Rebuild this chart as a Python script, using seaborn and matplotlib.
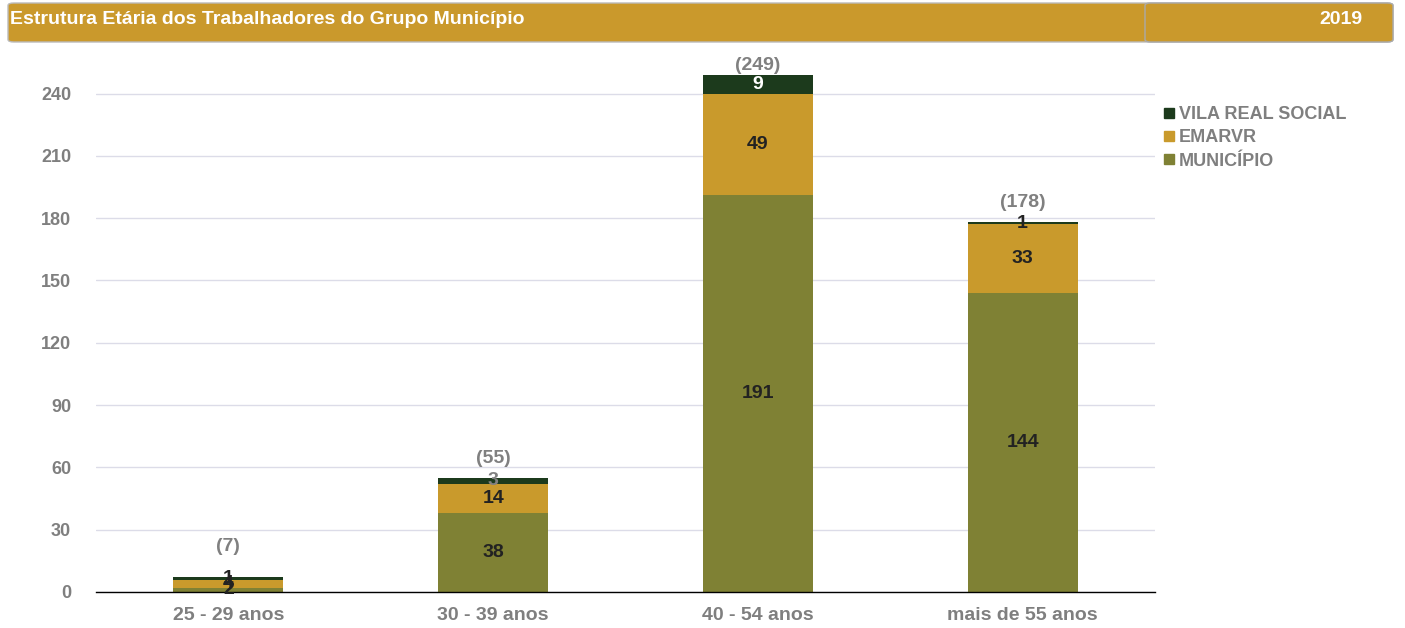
import matplotlib
matplotlib.use("Agg")
import matplotlib.pyplot as plt
import seaborn as sns
import numpy as np
from matplotlib.patches import FancyBboxPatch
from matplotlib.lines import Line2D

sns.set_theme(style="white")
plt.rcParams['font.family'] = ['Liberation Sans', 'DejaVu Sans']

# data
categories = ["25 - 29 anos", "30 - 39 anos", "40 - 54 anos", "mais de 55 anos"]
municipio = [2, 38, 191, 144]
emarvr = [4, 14, 49, 33]
vila_real = [1, 3, 9, 1]
series_names = ["MUNICÍPIO", "EMARVR", "VILA REAL SOCIAL"]
series_colors = ["#7F8134", "#C99A2C", "#1C3A1C"]
label_colors = ["#222222", "#222222", "#FFFFFF"]
title = "Estrutura Etária dos Trabalhadores do Grupo Município"
year = "2019"

fig = plt.figure(figsize=(14.05, 6.28), dpi=100)
ax = fig.add_axes([96 / 1405, 36 / 628, 1059 / 1405, 540 / 628])

series = [municipio, emarvr, vila_real]
bottom = np.zeros(len(categories))
for vals, name, col, lcol in zip(series, series_names, series_colors, label_colors):
    vals = np.array(vals, dtype=float)
    sns.barplot(x=categories, y=vals, bottom=bottom, color=col, width=0.415,
                ax=ax, edgecolor=col, linewidth=0, saturation=1)
    for i, (v, b) in enumerate(zip(vals, bottom)):
        c = lcol
        if name == "VILA REAL SOCIAL" and v < 5:
            c = "#222222" if v < 2 else "#808080"
        ax.text(i, b + v / 2, f"{int(v)}", ha="center", va="center",
                fontsize=14, fontweight="bold", color=c)
    bottom += vals

# total labels (Excel-like placement, a bit higher for the tiny bar, clamped at the top)
total_offsets = [22, 14, 6.5, 14]
for i, t in enumerate(bottom):
    ax.annotate(f"({int(t)})", (i, t), xytext=(0, total_offsets[i]), textcoords="offset points",
                ha="center", va="center", fontsize=14, fontweight="bold", color="#808080")

ax.set_xlim(-0.5, 3.5)
ax.set_ylim(0, 260)
ax.set_yticks(np.arange(0, 241, 30))
ax.yaxis.grid(True, color="#DCDCE8", linewidth=1)
ax.set_axisbelow(True)
for s in ["top", "right", "left"]:
    ax.spines[s].set_visible(False)
ax.spines["bottom"].set_color("black")
ax.spines["bottom"].set_linewidth(1)
ax.tick_params(axis="y", length=0, pad=18, labelsize=13, labelcolor="#7F7F7F")
ax.tick_params(axis="x", which="major", length=0, pad=11, labelsize=14, labelcolor="#7F7F7F")
ax.set_xticks(np.arange(-0.5, 4, 1), minor=True)
ax.tick_params(axis="x", which="minor", length=5, width=1, color="black")
for lab in ax.get_yticklabels() + ax.get_xticklabels():
    lab.set_fontweight("bold")
ax.set_xlabel("")
ax.set_ylabel("")

handles = [Line2D([0], [0], marker="s", color="w", markerfacecolor=c, markeredgecolor=c,
                  markersize=7, label=n)
           for n, c in zip(series_names[::-1], series_colors[::-1])]
leg = ax.legend(handles=handles, loc="upper left", bbox_to_anchor=(0.993, 0.93), frameon=False,
                handlelength=0.6, handletextpad=0.25, labelspacing=0.35,
                prop={"weight": "bold", "size": 13})
for t in leg.get_texts():
    t.set_color("#7F7F7F")

# header bar
W, H = 1405, 628
gold = "#CA992C"
fig.patches.append(FancyBboxPatch((8 / W, 1 - 42 / H), 1385 / W, 39 / H,
                                  boxstyle="round,pad=0,rounding_size=0.004",
                                  transform=fig.transFigure, facecolor=gold,
                                  edgecolor="#BBBBBB", linewidth=1))
fig.patches.append(FancyBboxPatch((1145 / W, 1 - 42 / H), 248 / W, 39 / H,
                                  boxstyle="round,pad=0,rounding_size=0.004",
                                  transform=fig.transFigure, facecolor=gold,
                                  edgecolor="#AAAAAA", linewidth=1))
fig.text(10 / W, 1 - 19 / H, title, ha="left", va="center", color="white",
         fontsize=14, fontweight="bold")
fig.text(1363 / W, 1 - 19 / H, year, ha="right", va="center", color="white",
         fontsize=14, fontweight="bold")

fig.savefig("out.png", dpi=100)
